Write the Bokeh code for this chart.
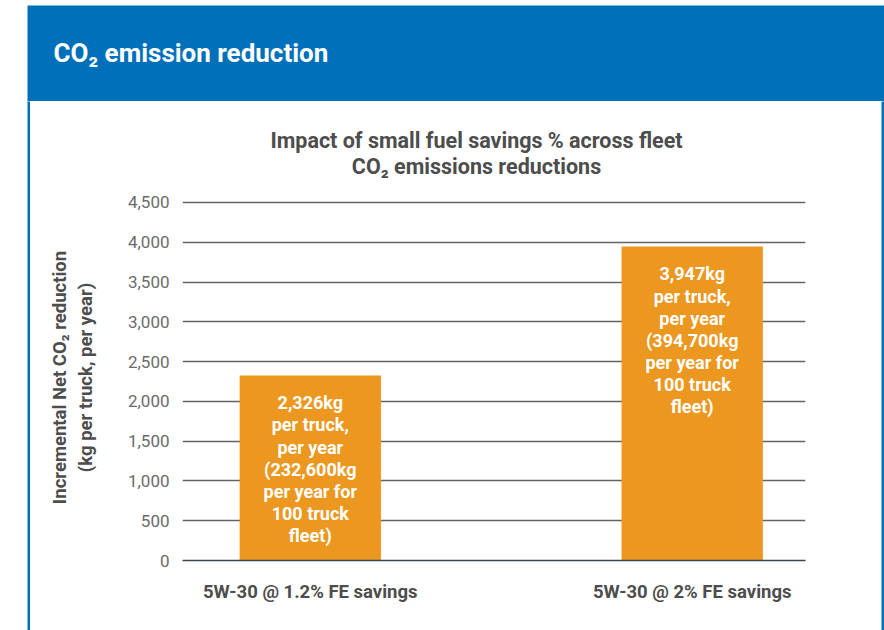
from bokeh.plotting import figure
from bokeh.layouts import column, row
from bokeh.models import (Range1d, FixedTicker, Label, Spacer,
                          ColumnDataSource, NumeralTickFormatter)
from bokeh.core.properties import value
from bokeh.embed import file_html
from bokeh.resources import INLINE

# ---------------- data ----------------
categories = ["5W-30 @ 1.2% FE savings", "5W-30 @ 2% FE savings"]
reductions = [2326, 3947]
bar_texts = [
    "2,326kg\nper truck,\nper year\n(232,600kg\nper year for\n100 truck\nfleet)",
    "3,947kg\nper truck,\nper year\n(394,700kg\nper year for\n100 truck\nfleet)",
]
y_ticks = [0, 500, 1000, 1500, 2000, 2500, 3000, 3500, 4000, 4500]
header_text = "CO\u2082 emission reduction"
chart_title = ["Impact of small fuel savings % across fleet", "CO\u2082 emissions reductions"]
y_label = "Incremental Net CO\u2082 reduction\n(kg per truck, per year)"

# ---------------- style ----------------
BLUE = "#0070BA"
ORANGE = "#EC971F"
DARK = "#4d4d4d"
GRAY = "#6b6b6b"
FONT_NAME = "Roboto"
FONT = value(FONT_NAME)


def plain_fig(w, h, color):
    f = figure(width=w, height=h, output_backend="svg", toolbar_location=None,
               x_axis_type=None, y_axis_type=None, min_border=0,
               x_range=Range1d(0, 1), y_range=Range1d(0, 1))
    f.background_fill_color = color
    f.border_fill_color = color
    f.outline_line_color = None
    f.grid.visible = False
    return f


# ---------------- header band ----------------
header = plain_fig(857, 96, BLUE)
header.add_layout(Label(x=26, y=47, x_units="canvas", y_units="canvas",
                        text=header_text, text_color="white", text_font=FONT_NAME,
                        text_font_style="bold", text_font_size="26px",
                        text_baseline="middle", text_align="left"))

strip_l = plain_fig(3, 529, BLUE)
strip_r = plain_fig(3, 529, BLUE)

# ---------------- chart title band ----------------
title_band = plain_fig(851, 81, "white")
for t, ty in zip(chart_title, [39, 65]):
    title_band.add_layout(Label(x=446, y=ty, x_units="canvas", y_units="canvas",
                                text=t, text_color=DARK, text_font=FONT_NAME,
                                text_font_style="bold", text_font_size="21.5px",
                                text_baseline="middle", text_align="center"))

# ---------------- main chart ----------------
xs = list(range(len(categories)))
src = ColumnDataSource(dict(x=xs, top=reductions, label=bar_texts))

p = figure(width=851, height=448, output_backend="svg", toolbar_location=None,
           x_range=Range1d(-0.3346, 1.2966), y_range=Range1d(0, 4600),
           min_border_left=152, min_border_right=76,
           min_border_top=12, min_border_bottom=70)
p.outline_line_color = None
p.background_fill_color = "white"
p.border_fill_color = "white"

p.vbar(x="x", top="top", width=0.37, source=src, color=ORANGE, line_color=None)
p.text(x="x", y="top", text="label", source=src, text_align="center",
       text_baseline="top", y_offset=17, text_line_height=1.05,
       text_color="white", text_font_size="18px", text_font=FONT,
       text_font_style="bold")

ya = p.yaxis[0]
ya.ticker = FixedTicker(ticks=y_ticks)
ya.formatter = NumeralTickFormatter(format="0,0")
ya.axis_line_color = None
ya.major_tick_line_color = None
ya.minor_tick_line_color = None
ya.major_tick_out = 0
ya.major_tick_in = 0
ya.minor_tick_out = 0
ya.major_label_standoff = 13
ya.major_label_text_font = FONT_NAME
ya.major_label_text_font_size = "17px"
ya.major_label_text_color = GRAY
ya.axis_label = y_label
ya.axis_label_standoff = 28
ya.axis_label_text_font = FONT_NAME
ya.axis_label_text_font_size = "18.5px"
ya.axis_label_text_font_style = "bold"
ya.axis_label_text_color = DARK

xa = p.xaxis[0]
xa.ticker = FixedTicker(ticks=xs)
xa.major_label_overrides = {i: c for i, c in zip(xs, categories)}
xa.axis_line_color = "#3f4650"
xa.axis_line_width = 1.5
xa.major_tick_line_color = None
xa.minor_tick_line_color = None
xa.major_tick_out = 0
xa.major_tick_in = 0
xa.minor_tick_out = 0
xa.major_label_standoff = 20
xa.major_label_text_font = FONT_NAME
xa.major_label_text_font_size = "18.5px"
xa.major_label_text_font_style = "bold"
xa.major_label_text_color = DARK

p.xgrid.grid_line_color = None
p.ygrid.ticker = FixedTicker(ticks=y_ticks)
p.ygrid.grid_line_color = "#636363"
p.ygrid.grid_line_width = 1.5

layout = column(
    Spacer(width=884, height=5),
    row(Spacer(width=27, height=96), header),
    row(Spacer(width=27, height=529), strip_l, column(title_band, p), strip_r),
)

open("out.html", "w").write(file_html(layout, INLINE))
